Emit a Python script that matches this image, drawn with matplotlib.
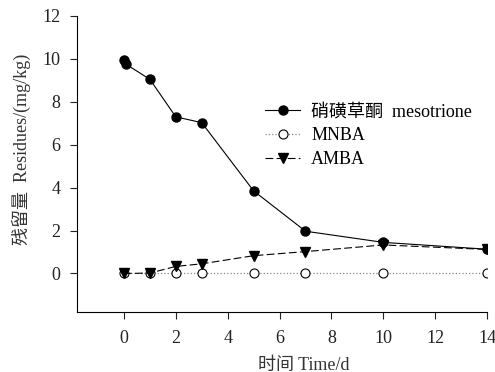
import matplotlib
matplotlib.use("Agg")
import matplotlib.pyplot as plt

# Data
days_meso = [0, 0.083, 1, 2, 3, 5, 7, 10, 14]
meso = [9.95, 9.75, 9.05, 7.3, 7.03, 3.85, 1.97, 1.45, 1.13]

days = [0, 1, 2, 3, 5, 7, 10, 14]
mnba = [0, 0, 0, 0, 0, 0, 0, 0]
amba = [0, 0.02, 0.33, 0.45, 0.83, 1.02, 1.33, 1.12]

xticks = [0, 2, 4, 6, 8, 10, 12, 14]
yticks = [0, 2, 4, 6, 8, 10, 12]

plt.rcParams['font.family'] = ['Liberation Serif', 'Noto Sans CJK SC']
plt.rcParams['font.size'] = 12

fig = plt.figure(figsize=(4.95, 3.72), dpi=100)
ax = fig.add_axes([0.156, 0.161, 0.828, 0.796])

ax.plot(days_meso, meso, color='black', lw=0.8, marker='o', ms=6.5,
        label='硝磺草酮  mesotrione', zorder=3)
ax.plot(days, mnba, color='#888888', lw=0.9, ls=':', marker='o', ms=6.5,
        mfc='white', mec='black', mew=0.8, label='MNBA', zorder=2)
ax.plot(days, amba, color='black', lw=0.8, ls=(0, (7, 3)), marker='v', ms=6.5,
        label='AMBA', zorder=4)

ax.set_xlim(-1.8, 14)
ax.set_ylim(-1.8, 12)
ax.set_xticks(xticks)
ax.set_yticks(yticks)
ax.tick_params(direction='out', length=5, width=0.8, colors='#222222', labelsize=13)
ax.tick_params(axis='x', pad=8)
ax.tick_params(axis='y', pad=7)

ax.spines['top'].set_visible(False)
ax.spines['right'].set_visible(False)

ax.set_xlabel('时间 Time/d', fontsize=13, color='#333333')
ax.set_ylabel('残留量  Residues/(mg/kg)', fontsize=13, color='#333333')
ax.xaxis.set_label_coords(0.553, -0.15)
ax.yaxis.set_label_coords(-0.113, 0.551)

ax.legend(loc='upper right', bbox_to_anchor=(1.003, 0.76), frameon=False,
          fontsize=13, handlelength=1.95, labelspacing=0.38, handletextpad=0.6)

fig.savefig('out.png', dpi=100)
